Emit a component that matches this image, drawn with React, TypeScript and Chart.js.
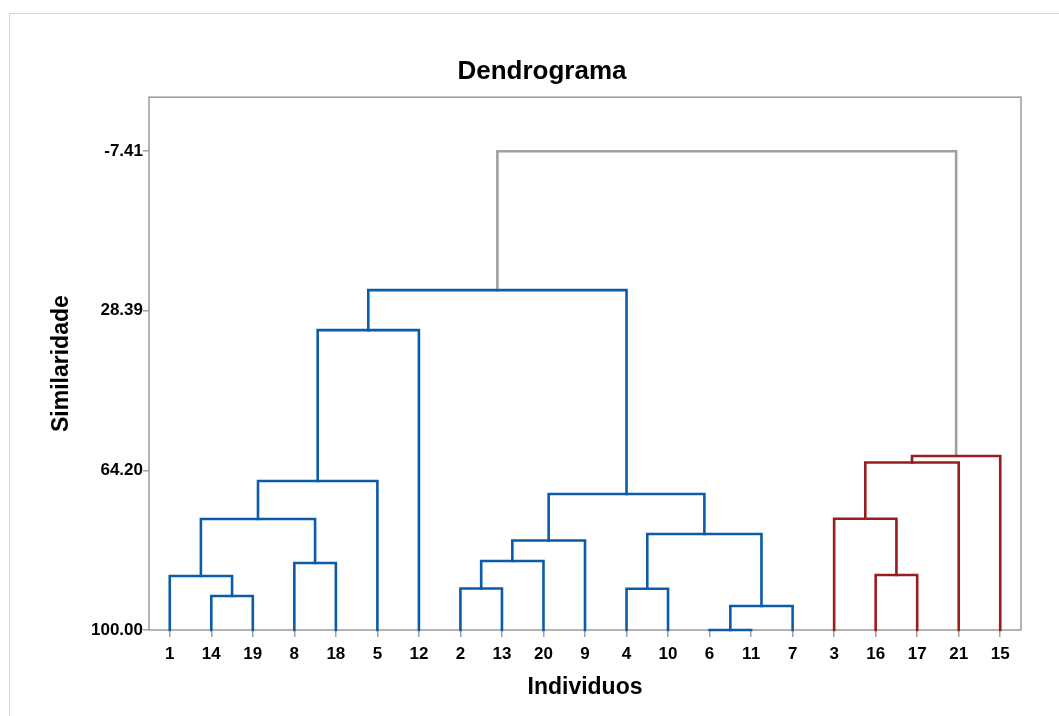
import React, { useEffect, useRef } from 'react';
import { Chart, registerables } from 'chart.js';

Chart.register(...registerables);

// Leaves in dendrogram order (left to right)
const leafLabels = ['1', '14', '19', '8', '18', '5', '12', '2', '13', '20', '9', '4', '10', '6', '11', '7', '3', '16', '17', '21', '15'];
// Merges: ids < 21 are leaf positions, id 21 + k is the k-th merge
const mergeLeft = [1, 0, 3, 22, 24, 25, 7, 27, 28, 11, 13, 31, 30, 29, 26, 17, 16, 37, 38, 35];
const mergeRight = [2, 21, 4, 23, 5, 6, 8, 9, 10, 12, 14, 15, 32, 33, 34, 18, 36, 19, 20, 39];
const mergeSimilarity = [92.38, 87.89, 84.98, 75.11, 66.59, 32.73, 90.69, 84.53, 79.93, 90.74, 100.0, 94.62, 78.47, 69.5, 23.76, 87.67, 75.04, 62.44, 60.98, -7.41];
const mergeGroup = ['a', 'a', 'a', 'a', 'a', 'a', 'a', 'a', 'a', 'a', 'a', 'a', 'a', 'a', 'a', 'b', 'b', 'b', 'b', 'c'];
const yTickValues = [-7.41, 28.39, 64.2, 100.0];
const yMinValue = -19.52;
const yMaxValue = 100;

const groupColors: Record<string, string> = { a: '#0b5ca8', b: '#9b1c1f', c: '#a0a0a0' };
const FONT = "'Liberation Sans', Arial, sans-serif";

function buildDatasets() {
  const n = leafLabels.length;
  const nodeX: number[] = [];
  const nodeY: number[] = [];
  for (let i = 0; i < n; i++) {
    nodeX.push(i);
    nodeY.push(100);
  }
  const datasets: any[] = [];
  for (let k = 0; k < mergeLeft.length; k++) {
    const l = mergeLeft[k];
    const r = mergeRight[k];
    const h = mergeSimilarity[k];
    const color = groupColors[mergeGroup[k]];
    datasets.push({
      data: [
        { x: nodeX[l], y: nodeY[l] },
        { x: nodeX[l], y: h },
        { x: nodeX[r], y: h },
        { x: nodeX[r], y: nodeY[r] },
      ],
      borderColor: color,
      backgroundColor: color,
      borderWidth: 2.6,
      pointRadius: 0,
      pointHoverRadius: 0,
      tension: 0,
      fill: false,
      clip: false,
      borderCapStyle: 'square',
      borderJoinStyle: 'miter',
    });
    nodeX.push((nodeX[l] + nodeX[r]) / 2);
    nodeY.push(h);
  }
  return datasets;
}

const framePlugin = {
  id: 'plotFrame',
  beforeDatasetsDraw(chart: any) {
    const { ctx, chartArea } = chart;
    ctx.save();
    ctx.strokeStyle = '#a0a0a0';
    ctx.lineWidth = 1.6;
    ctx.strokeRect(chartArea.left, chartArea.top, chartArea.right - chartArea.left, chartArea.bottom - chartArea.top);
    ctx.restore();
  },
};

export default function App() {
  const canvasRef = useRef<HTMLCanvasElement | null>(null);

  useEffect(() => {
    if (!canvasRef.current) return;
    const chart = new Chart(canvasRef.current, {
      type: 'line',
      data: { datasets: buildDatasets() },
      plugins: [framePlugin],
      options: {
        animation: false,
        responsive: true,
        maintainAspectRatio: false,
        events: [],
        layout: { padding: { left: 53, right: 38, top: 0, bottom: 0 } },
        plugins: {
          legend: { display: false },
          tooltip: { enabled: false },
          title: {
            display: true,
            text: 'Dendrograma',
            color: '#000',
            font: { family: FONT, size: 26, weight: 'bold' },
            padding: { top: 42, bottom: 10 },
          },
        },
        scales: {
          x: {
            type: 'linear',
            min: -0.5,
            max: leafLabels.length - 0.5,
            afterBuildTicks: (scale: any) => {
              scale.ticks = leafLabels.map((_, i) => ({ value: i }));
            },
            afterFit: (scale: any) => {
              scale.height = 86;
            },
            ticks: {
              autoSkip: false,
              maxRotation: 0,
              minRotation: 0,
              padding: 7,
              color: '#000',
              font: { family: FONT, size: 17, weight: 'bold' },
              callback: (v: any) => leafLabels[Math.round(Number(v))] ?? '',
            },
            grid: {
              drawOnChartArea: false,
              drawTicks: true,
              tickLength: 7,
              color: '#a0a0a0',
              lineWidth: 1.5,
            },
            border: { display: false },
            title: {
              display: true,
              text: 'Individuos',
              color: '#000',
              font: { family: FONT, size: 23, weight: 'bold' },
              padding: { top: 0, bottom: 15 },
            },
          },
          y: {
            type: 'linear',
            reverse: true,
            min: yMinValue,
            max: yMaxValue,
            afterBuildTicks: (scale: any) => {
              scale.ticks = yTickValues.map((v) => ({ value: v }));
            },
            afterFit: (scale: any) => {
              scale.width = 86;
            },
            ticks: {
              padding: 0,
              color: '#000',
              font: { family: FONT, size: 17, weight: 'bold' },
              callback: (v: any) => Number(v).toFixed(2),
            },
            grid: {
              drawOnChartArea: false,
              drawTicks: true,
              tickLength: 6,
              color: '#a0a0a0',
              lineWidth: 1.5,
            },
            border: { display: false },
            title: {
              display: true,
              text: 'Similaridade',
              color: '#000',
              font: { family: FONT, size: 23, weight: 'bold' },
              padding: { top: -15, bottom: 0 },
            },
          },
        },
      } as any,
    });
    return () => chart.destroy();
  }, []);

  return (
    <div
      style={{
        position: 'fixed',
        left: 9,
        top: 13,
        width: 1050,
        height: 703,
        boxSizing: 'border-box',
        borderTop: '1px solid #d4d4d4',
        borderLeft: '1px solid #d4d4d4',
        background: '#fff',
      }}
    >
      <canvas ref={canvasRef} />
    </div>
  );
}
